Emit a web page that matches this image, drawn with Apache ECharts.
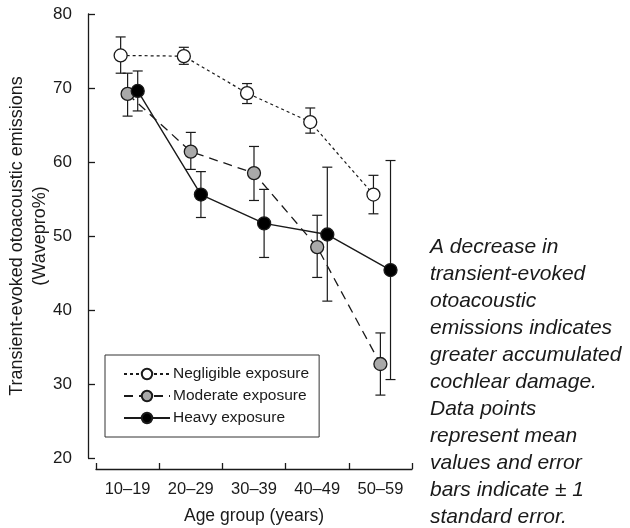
<!DOCTYPE html>
<html>
<head>
<meta charset="utf-8">
<title>TEOAE by age group</title>
<script src="https://cdn.jsdelivr.net/npm/echarts@6/dist/echarts.min.js"></script>
<style>
  html, body { margin: 0; padding: 0; background: #fff; }
  #main { width: 630px; height: 528px; }
</style>
</head>
<body>
<div id="main"></div>
<script>
// age groups on the x axis
var ageGroups = ['10\u201319', '20\u201329', '30\u201339', '40\u201349', '50\u201359'];
var yTicks = [20, 30, 40, 50, 60, 70, 80];

// mean values (Wavepro%)
var negligible = [74.4, 74.3, 69.3, 65.4, 55.6];
var moderate   = [69.2, 61.4, 58.5, 48.5, 32.7];
var heavy      = [69.6, 55.6, 51.7, 50.2, 45.4];

// +/- 1 standard error, read as low / high ends of the bars
var negLow  = [72.0, 73.2, 67.9, 63.9, 53.0];
var negHigh = [76.9, 75.5, 70.6, 67.3, 58.2];
var modLow  = [66.2, 59.0, 54.8, 44.4, 28.5];
var modHigh = [72.0, 64.0, 62.1, 52.8, 36.9];
var hvyLow  = [66.9, 52.5, 47.1, 41.2, 30.6];
var hvyHigh = [72.3, 58.7, 56.3, 59.3, 60.2];

var note = 'A decrease in\ntransient-evoked\notoacoustic\nemissions indicates\ngreater accumulated\ncochlear damage.\nData points\nrepresent mean\nvalues and error\nbars indicate \u00b1 1\nstandard error.';

var FONT = '"Liberation Sans", Arial, Helvetica, sans-serif';
var INK = '#1a1a1a';

var myChart = echarts.init(document.getElementById('main'));

// small sideways shift so the three groups don't sit on top of each other
function pts(vals, shift) {
  return vals.map(function (v, i) { return [i + 1 + shift, v]; });
}
function bars(lo, hi, shift) {
  return lo.map(function (l, i) { return [i + 1 + shift, l, hi[i]]; });
}

function errorBar(params, api) {
  var x = api.value(0);
  var a = api.coord([x, api.value(1)]);
  var b = api.coord([x, api.value(2)]);
  var w = 5;
  var st = { stroke: INK, lineWidth: 1.2 };
  return {
    type: 'group',
    children: [
      { type: 'line', shape: { x1: a[0], y1: a[1], x2: b[0], y2: b[1] }, style: st },
      { type: 'line', shape: { x1: a[0] - w, y1: a[1], x2: a[0] + w, y2: a[1] }, style: st },
      { type: 'line', shape: { x1: b[0] - w, y1: b[1], x2: b[0] + w, y2: b[1] }, style: st }
    ]
  };
}

var groups = [
  { name: 'Negligible exposure', vals: negligible, lo: negLow, hi: negHigh, shift: -0.11,
    fill: '#ffffff', line: { type: [3, 3], width: 1.2 } },
  { name: 'Moderate exposure', vals: moderate, lo: modLow, hi: modHigh, shift: 0,
    fill: '#a9a9a9', line: { type: [9, 6], width: 1.3 } },
  { name: 'Heavy exposure', vals: heavy, lo: hvyLow, hi: hvyHigh, shift: 0.16,
    fill: '#000000', line: { type: 'solid', width: 1.4 } }
];

var series = [];
groups.forEach(function (g) {
  series.push({
    name: g.name + ' SE',
    type: 'custom',
    xAxisIndex: 1,
    renderItem: errorBar,
    data: bars(g.lo, g.hi, g.shift),
    z: 1,
    silent: true
  });
});
groups.forEach(function (g) {
  series.push({
    name: g.name,
    type: 'line',
    xAxisIndex: 1,
    data: pts(g.vals, g.shift),
    symbol: 'circle',
    symbolSize: 13,
    lineStyle: { color: INK, width: g.line.width, type: g.line.type },
    itemStyle: { color: g.fill, borderColor: INK, borderWidth: 1.3 },
    z: 3
  });
});

var option = {
  animation: false,
  backgroundColor: '#fff',
  textStyle: { fontFamily: FONT, color: INK },
  grid: { left: 96, top: 14, width: 316, height: 444, containLabel: false, outerBoundsMode: 'none' },
  legend: {
    orient: 'vertical',
    left: 105,
    top: 355,
    data: groups.map(function (g) { return g.name; }),
    itemWidth: 46,
    itemHeight: 13,
    itemGap: 6,
    padding: [11, 10, 11, 18],
    borderColor: '#333',
    borderWidth: 1,
    textStyle: { fontFamily: FONT, fontSize: 15.5, color: INK, padding: [0, 0, 0, -2] }
  },
  xAxis: [
    {
      type: 'category',
      data: ageGroups,
      boundaryGap: true,
      offset: 11,
      axisLine: { lineStyle: { color: INK, width: 1.3 } },
      axisTick: { show: true, interval: 0, inside: true, length: 6, lineStyle: { color: INK, width: 1.3 } },
      axisLabel: { interval: 0, fontFamily: FONT, fontSize: 16.5, color: INK, margin: 12 },
      name: 'Age group (years)',
      nameLocation: 'middle',
      nameGap: 38,
      nameMoveOverlap: false,
      nameTextStyle: { fontFamily: FONT, fontSize: 17.5, color: INK },
      splitLine: { show: false }
    },
    {
      type: 'value',
      min: 0.5,
      max: 5.5,
      show: false
    }
  ],
  yAxis: {
    type: 'value',
    min: yTicks[0],
    max: yTicks[yTicks.length - 1],
    interval: 10,
    offset: 8,
    axisLine: { show: true, lineStyle: { color: INK, width: 1.3 } },
    axisTick: { show: true, inside: true, length: 7, lineStyle: { color: INK, width: 1.3 } },
    axisLabel: { fontFamily: FONT, fontSize: 17, color: INK, margin: 16 },
    splitLine: { show: false },
    name: 'Transient-evoked otoacoustic emissions\n(Wavepro%)',
    nameLocation: 'middle',
    nameRotate: 90,
    nameGap: 36,
    nameMoveOverlap: false,
    nameTextStyle: { fontFamily: FONT, fontSize: 18, lineHeight: 23, color: INK, align: 'center' }
  },
  graphic: [
    {
      type: 'text',
      left: 430,
      top: 234,
      style: {
        text: note,
        font: 'italic 21px ' + FONT,
        lineHeight: 27,
        fill: INK
      }
    }
  ],
  series: series
};

myChart.setOption(option);
</script>
</body>
</html>
